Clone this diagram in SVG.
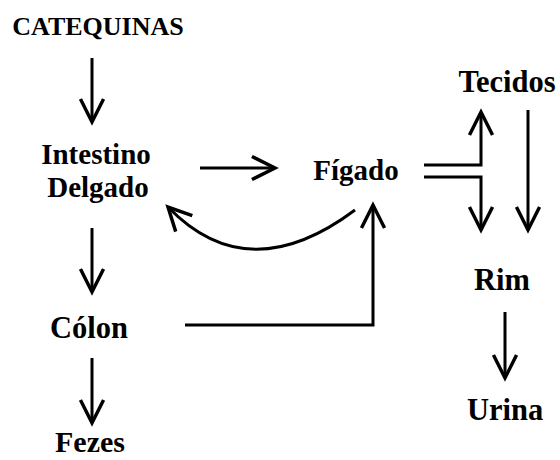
<svg xmlns="http://www.w3.org/2000/svg" width="560" height="460" viewBox="0 0 560 460">
<defs>
<style>
.lbl{font-family:"Liberation Serif","Times New Roman",serif;font-weight:bold;font-size:29px;fill:#000;text-anchor:middle}
.top{font-size:26px}
.big{font-size:30.5px}
.c{fill:none;stroke:#000;stroke-width:3}
</style>
<marker id="ah" markerUnits="userSpaceOnUse" markerWidth="30" markerHeight="30" viewBox="-22 -12 26 24" refX="0" refY="0" orient="auto">
<path d="M-20,-10 L0,0 L-20,10" fill="none" stroke="#000" stroke-width="3"/>
</marker>
</defs>
<rect width="560" height="460" fill="#fff"/>
<g id="catequinas"><text class="lbl top" x="98" y="35">CATEQUINAS</text></g>
<g id="intestino"><text class="lbl" x="96" y="164">Intestino</text><text class="lbl" x="98" y="197">Delgado</text></g>
<g id="figado"><text class="lbl" x="356" y="180">Fígado</text></g>
<g id="tecidos"><text class="lbl big" x="507" y="92">Tecidos</text></g>
<g id="rim"><text class="lbl big" x="502" y="290">Rim</text></g>
<g id="urina"><text class="lbl big" x="505" y="420">Urina</text></g>
<g id="colon"><text class="lbl big" x="89" y="338">Cólon</text></g>
<g id="fezes"><text class="lbl" x="90" y="452" style="font-size:30px">Fezes</text></g>
<g id="connectors">
<path class="c" d="M92,58 V122" marker-end="url(#ah)"/>
<path class="c" d="M200,168 H275" marker-end="url(#ah)"/>
<path class="c" d="M355,210 Q248,290 168,207" marker-end="url(#ah)"/>
<path class="c" d="M92,228 V292" marker-end="url(#ah)"/>
<path class="c" d="M92,358 V423" marker-end="url(#ah)"/>
<path class="c" d="M185,325 H373 V205" marker-end="url(#ah)"/>
<path class="c" d="M424,165 H481 V112" marker-end="url(#ah)"/>
<path class="c" d="M424,177 H481 V230" marker-end="url(#ah)"/>
<path class="c" d="M528,110 V230" marker-end="url(#ah)"/>
<path class="c" d="M505,312 V378" marker-end="url(#ah)"/>
</g>
</svg>
